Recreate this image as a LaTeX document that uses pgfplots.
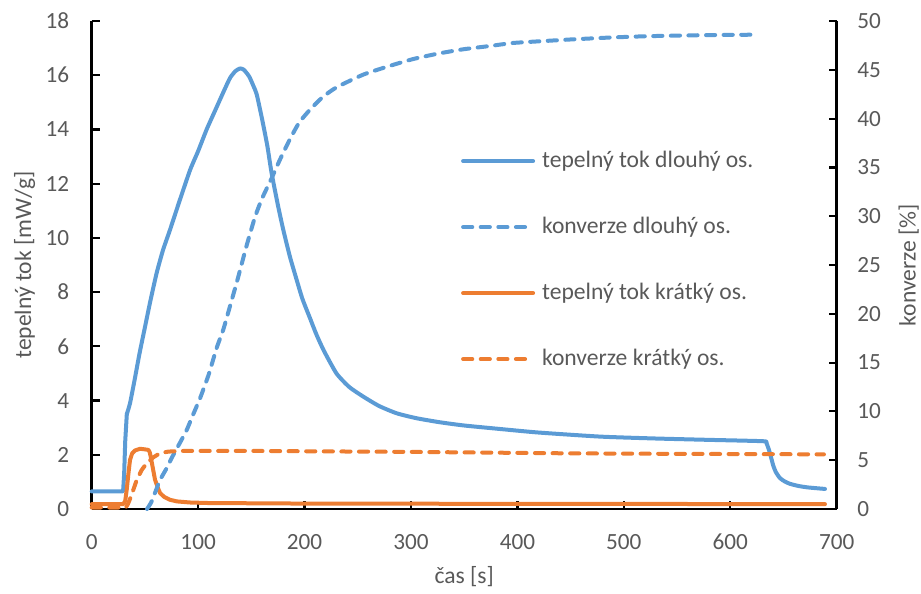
\documentclass[border=0pt]{standalone}
\usepackage{fontspec}
\setmainfont{Carlito}
\usepackage{pgfplots}
\pgfplotsset{compat=1.18}

\definecolor{cblue}{HTML}{5B9BD5}
\definecolor{corange}{HTML}{ED7D31}
\definecolor{cgray}{HTML}{595959}

\pgfplotsset{
  base/.style={
    scale only axis, width=372.5pt, height=244pt,
    at={(0,0)}, anchor=south west,
    xmin=0, xmax=700, xtick distance=100,
    clip=false,
    tick align=inside, major tick length=4pt,
    tick style={black, line width=1.1pt},
    axis line style={black, line width=1.2pt},
    ticklabel style={font=\fontsize{11.6}{13}\selectfont, text=cgray},
    label style={font=\fontsize{11.8}{14}\selectfont, text=cgray},
    /pgf/number format/assume math mode=true,
    /pgf/number format/1000 sep={},
  },
  solidline/.style={line width=2pt, line join=round, line cap=round},
  dashline/.style={line width=2pt, line cap=round, line join=round, dash pattern=on 4.6pt off 4.2pt},
}

\begin{document}
\begin{tikzpicture}
% primary axis: heat flow
\begin{axis}[base,
    ymin=0, ymax=18, ytick distance=2,
    axis x line*=bottom, axis y line*=left,
    xticklabel style={yshift=-9pt},
    yticklabel style={xshift=-7.8pt},
    xlabel={čas [s]},
    ylabel={tepelný tok [mW/g]},
    xlabel style={at={(axis description cs:0.5,-0.1383)}, anchor=center},
    ylabel style={at={(axis description cs:-0.0899,0.5)}, anchor=center},
  ]
  % tepelny tok dlouhy os. (start and jump)
  \addplot[cblue, solidline] coordinates {
    (0,0.65) (29.5,0.65) (30.5,1.3) (31.5,2.5) (33,3.5)
  };
  % tepelny tok dlouhy os. (rest)
  \addplot[cblue, solidline, smooth, tension=0.35] coordinates {
    (33,3.5) (36,3.9) (40.5,4.8)
    (45,5.75) (50,6.7) (55,7.65) (61,8.7) (67,9.55) (73.6,10.3) (82,11.3)
    (92.4,12.5) (100,13.2) (108,14.0) (116,14.7) (124,15.4) (130,15.9)
    (135,16.15) (139.3,16.25) (143,16.2) (148,15.95) (152,15.6) (155,15.3)
    (160,14.4) (165,13.4) (169,12.4) (175,11.2) (180,10.3) (186.3,9.3)
    (192.6,8.45) (198,7.75) (205,7.05) (211,6.45) (218,5.85) (230,5.0)
    (242,4.5) (255,4.15) (270,3.8) (286.6,3.53) (305,3.35) (327,3.2)
    (350,3.08) (384,2.95) (420,2.82) (478,2.67) (530,2.6) (580,2.55)
    (631,2.5) (634,2.43) (637,2.1) (640.4,1.6) (643,1.35) (646.7,1.14)
    (651,1.02) (656,0.93) (664,0.85) (672,0.8) (680,0.77) (689,0.74)
  };
  % tepelny tok kratky os.
  \addplot[corange, solidline] coordinates {
    (0,0.18) (29.7,0.18) (31.5,0.3) (32.9,0.71) (34.5,1.3) (36,1.81) (38,2.05)
    (40.7,2.16) (45.4,2.22) (50,2.2) (53.2,2.18) (54.5,2.1) (55.4,1.94)
    (57.5,1.5) (59.5,1.08) (62,0.8) (64.2,0.59) (68,0.45) (73.6,0.34)
    (80,0.28) (92.4,0.24) (110,0.22) (200,0.2) (400,0.19) (689,0.18)
  };
\end{axis}
% secondary axis: conversion
\begin{axis}[base,
    ymin=0, ymax=50, ytick distance=5,
    axis x line=none, axis y line*=right,
    yticklabel style={xshift=6.8pt},
    ylabel={konverze [\%]},
    ylabel style={at={(axis description cs:1.0966,0.5)}, anchor=center},
    legend cell align=left,
    legend image code/.code={\draw[#1] (0pt,0pt) -- (35pt,0pt);},
    legend style={draw=none, fill=none, inner sep=0pt,
      at={(axis description cs:0.4953,0.7373)}, anchor=north west,
      font=\fontsize{11.8}{14}\selectfont, text=cgray,
      nodes={inner sep=0pt, text height=9pt, text depth=2.5pt},
      row sep=21.5pt, column sep=3.5pt},
  ]
  \addlegendimage{cblue, solidline}
  \addlegendentry{tepelný tok dlouhý os.}
  % konverze dlouhy os.
  \addplot[cblue, dashline, smooth, tension=0.35] coordinates {
    (52,0) (56,0.7) (60,1.8) (64.2,2.97) (70,4.1) (76,5.4) (82,6.6) (89.3,8.1)
    (95,9.6) (102,11.4) (110,13.8) (117.4,16.5) (123.7,18.4) (130,20.8)
    (137,23.5) (145.6,27.0) (153.4,29.9) (160,31.8) (169.1,33.9) (176.9,35.8)
    (186.3,37.9) (195,39.6) (205,40.9) (217,42.2) (230,43.2) (255,44.5)
    (280,45.4) (302,46.1) (325,46.65) (349,47.1) (375,47.45) (396,47.75)
    (430,47.98) (452,48.12) (490,48.32) (525,48.45) (575,48.55) (626,48.6)
  };
  \addlegendentry{konverze dlouhý os.}
  \addlegendimage{corange, solidline}
  \addlegendentry{tepelný tok krátký os.}
  % konverze kratky os.
  \addplot[corange, dashline] coordinates {
    (0,0.15) (32,0.15) (34,0.5) (37,1.3) (42.3,2.97) (47,4.0) (51.7,4.69)
    (58,5.3) (64.2,5.72) (72,5.88) (83,5.95) (150,5.95) (300,5.85)
    (450,5.7) (550,5.65) (688,5.6)
  };
  \addlegendentry{konverze krátký os.}
\end{axis}
\pgfresetboundingbox
\useasboundingbox (-45.85pt,-42.5pt) rectangle (414.65pt,254.5pt);
\end{tikzpicture}
\end{document}
